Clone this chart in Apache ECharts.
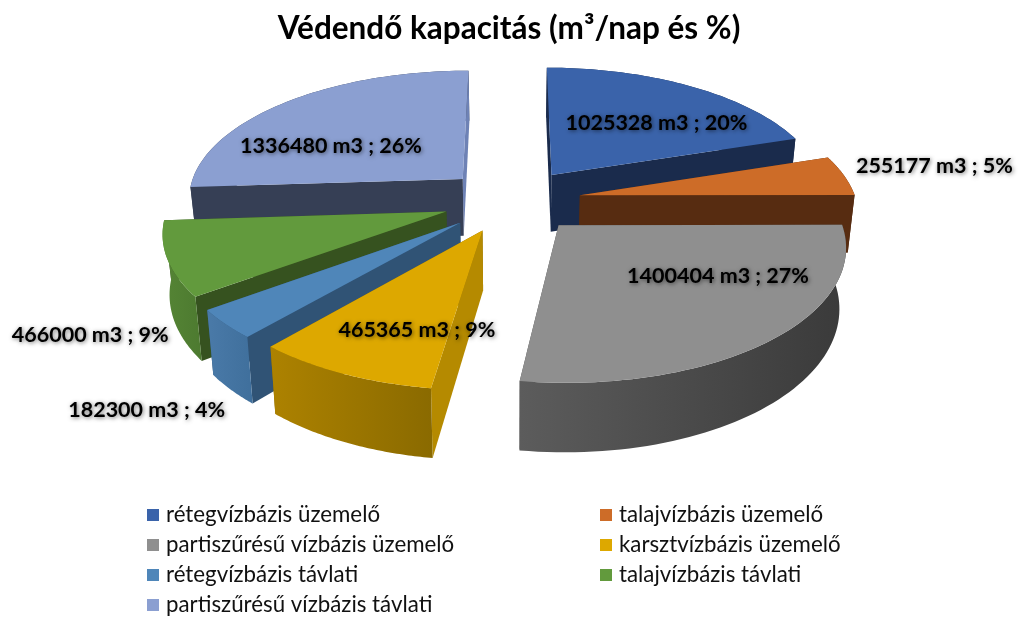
<!DOCTYPE html>
<html><head><meta charset="utf-8">
<style>html,body{margin:0;padding:0;background:#fff}#c{width:1018px;height:618px}</style>
<script src="https://cdn.jsdelivr.net/npm/echarts@6/dist/echarts.min.js"></script>
</head><body><div id="c"></div>
<script>
const categories = ['rétegvízbázis üzemelő','talajvízbázis üzemelő','partiszűrésű vízbázis üzemelő','karsztvízbázis üzemelő','rétegvízbázis távlati','talajvízbázis távlati','partiszűrésű vízbázis távlati'];
const values = [1025328,255177,1400404,465365,182300,466000,1336480];
const percents = [20,5,27,9,4,9,26];
const legendLeft = [categories[0],categories[2],categories[4],categories[6]];
const legendRight = [categories[1],categories[3],categories[5]];
const titleText = 'Védendő kapacitás (m³/nap és %)';

const topColors = ['#3a63aa','#cd6c28','#8f8f8f','#dda800','#4f86b9','#629a3d','#8b9fd1'];
const startWall = ['#1a2b4c','#572c11','#4a4a4a','#b58a00','#305375','#36521f','#363f55'];
const endWall   = ['#1a2b4c','#572c11','#4a4a4a','#8a6a00','#305375','#36521f','#6e82b5'];
const arcWallA  = ['#1a2b4c','#572c11','#5c5c5c','#ad8200','#4a7aa8','#558535','#363f55'];
const arcWallB  = ['#1a2b4c','#4d270f','#3a3a3a','#8a6a00','#3f6f9c','#4d7a30','#363f55'];
const drawRank  = [2,3,5,6,4,3,1];
// label anchors on the pie plane, relative to each exploded slice
const labelX = [.423,1.34,.526,-.199,-.897,-1.10,-.513];
const labelY = [.457,.24,-.354,-.66,-1.165,-.83,.28];

const CX=512, HORIZON=-738, PERSP=6850, NEAR=7.3, SCALE=.2945, DEPTH=.062, LEAN=.02, EXPLODE=.25;
const total = values.reduce((a,b)=>a+b,0);
function project(X,Y){const t=PERSP/(NEAR+Y);return {x:CX+X*SCALE*t,y:t+HORIZON,t};}
function lower(p){return [p.x+(CX-p.x)*LEAN,p.y+DEPTH*p.t];}
function upper(p){return [p.x,p.y];}

function sliceRender(i){
  return function(params,api){
    const v=api.value(0);
    let before=0; for(let k=0;k<i;k++) before+=values[k];
    const a0=before/total*2*Math.PI, a1=(before+v)/total*2*Math.PI, mid=(a0+a1)/2;
    const ox=EXPLODE*Math.sin(mid), oy=EXPLODE*Math.cos(mid);
    const apex=project(ox,oy);
    const arc=[]; const N=60;
    for(let k=0;k<=N;k++){const a=a0+(a1-a0)*k/N;arc.push(project(ox+Math.sin(a),oy+Math.cos(a)));}
    const z=drawRank[i]*10;
    const wallStart=[upper(apex),upper(arc[0]),lower(arc[0]),lower(apex)];
    const wallEnd=[upper(apex),upper(arc[N]),lower(arc[N]),lower(apex)];
    const wallArc=arc.map(upper).concat(arc.slice().reverse().map(lower));
    const grad={type:'linear',x:0,y:0,x2:1,y2:0,colorStops:[{offset:0,color:arcWallA[i]},{offset:1,color:arcWallB[i]}]};
    const walls=[
      {pts:wallStart,fill:startWall[i],d:(apex.y+arc[0].y)/2},
      {pts:wallEnd,fill:endWall[i],d:(apex.y+arc[N].y)/2},
      {pts:wallArc,fill:grad,d:arc.reduce((s,p)=>s+p.y,0)/arc.length}
    ].sort((a,b)=>a.d-b.d);
    const children=walls.map((w,k)=>({type:'polygon',z2:z+k,shape:{points:w.pts},style:{fill:w.fill}}));
    children.push({type:'polygon',z2:z+5,shape:{points:[upper(apex)].concat(arc.map(upper))},style:{fill:topColors[i]}});
    const lp=project(ox+labelX[i],oy+labelY[i]);
    children.push({type:'text',z2:1000,x:lp.x,y:lp.y,style:{
      text:v+' m3 ; '+percents[i]+'%',align:'center',verticalAlign:'middle',
      font:'bold 21.5px Lato',fill:'#000',textShadowColor:'rgba(0,0,0,.55)',textShadowBlur:4,textShadowOffsetX:1,textShadowOffsetY:1}});
    return {type:'group',children};
  };
}

const legendBase={orient:'vertical',icon:'rect',itemWidth:12,itemHeight:12,itemGap:8,top:504,height:130,padding:0,
  textStyle:{fontFamily:'Lato',fontSize:22.3,color:'#111',padding:[0,0,0,2]},selectedMode:false};
const chart=echarts.init(document.getElementById('c'),null,{renderer:'canvas'});
chart.setOption({
  animation:false,backgroundColor:'#fff',
  title:{text:titleText,left:'center',top:8,textStyle:{fontFamily:'Lato',fontWeight:'bold',fontSize:31.5,color:'#000'}},
  legend:[Object.assign({},legendBase,{left:147,data:legendLeft}),Object.assign({},legendBase,{left:600,data:legendRight})],
  series:categories.map((name,i)=>({type:'custom',name,coordinateSystem:'none',silent:true,
    itemStyle:{color:topColors[i]},data:[[values[i]]],renderItem:sliceRender(i)}))
});
</script></body></html>
